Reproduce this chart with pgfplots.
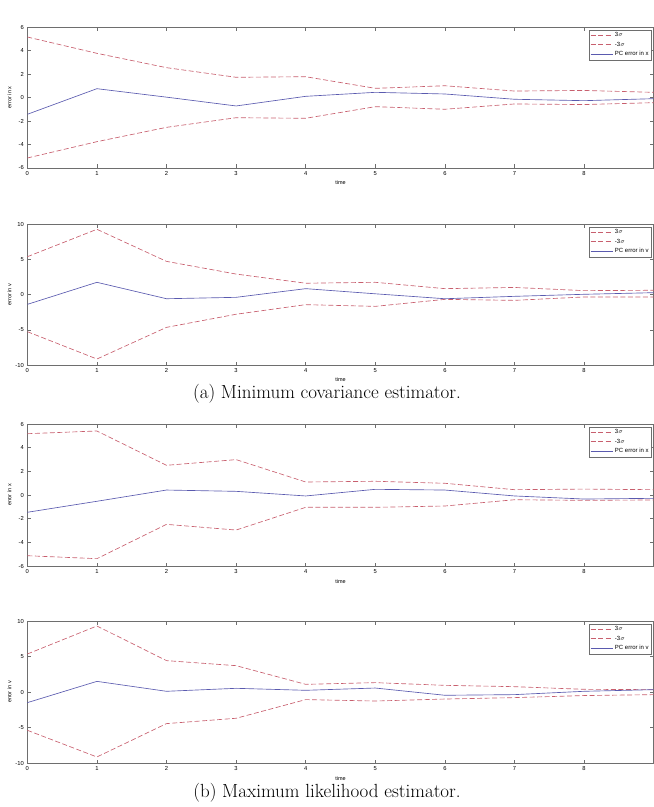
\documentclass[border=0pt]{standalone}
\usepackage{fontspec}
\usepackage{pgfplots}
\pgfplotsset{compat=1.18}
\newfontfamily\hel{Liberation Sans}
\definecolor{sigcol}{RGB}{200,95,110}
\definecolor{errcol}{RGB}{90,90,175}
\definecolor{boxcol}{RGB}{110,110,110}

\pgfplotsset{
  panel/.style={
    scale only axis, width=626.4pt,
    anchor=north west,
    xmin=0, xmax=9, xtick={0,...,8},
    tick align=inside, major tick length=3.5pt,
    axis line style={boxcol, line width=0.5pt},
    every tick/.style={boxcol, line width=0.5pt},
    tick label style={font=\hel\fontsize{5.8}{6.5}\selectfont},
    /pgf/number format/assume math mode=true,
    xlabel={time},
    xlabel style={font=\hel\fontsize{5.5}{6}\selectfont, at={(axis description cs:0.5,-0.106)}, anchor=center},
    ylabel style={font=\hel\fontsize{5.5}{6}\selectfont, at={(axis description cs:-0.0285,0.5)}, anchor=center},
    legend style={font=\hel\fontsize{6}{7}\selectfont, at={(0.997,0.982)}, anchor=north east,
      draw=boxcol, line width=0.4pt, inner sep=1pt, row sep=-0.5pt, cells={anchor=west}},
    legend image code/.code={\draw[#1] (0pt,0pt) -- (22pt,0pt);},
  },
  sig/.style={color=sigcol, line width=0.65pt, dash pattern=on 5pt off 2.5pt},
  err/.style={color=errcol, line width=0.65pt},
}

\begin{document}
\begin{tikzpicture}
\useasboundingbox (0pt,0pt) rectangle (654pt,-807pt);

% (a) minimum covariance estimator, position error
\begin{axis}[panel, at={(27.3pt,-27pt)}, height=141pt,
  ymin=-6, ymax=6, ytick={-6,-4,...,6}, ylabel={error in x}]
\addplot[sig] coordinates {(0,5.15) (1,3.76) (2,2.54) (3,1.72) (4,1.77) (5,0.78) (6,1.0) (7,0.55) (8,0.6) (9,0.44)};
\addplot[sig] coordinates {(0,-5.15) (1,-3.76) (2,-2.54) (3,-1.72) (4,-1.77) (5,-0.78) (6,-1.0) (7,-0.55) (8,-0.6) (9,-0.44)};
\addplot[err] coordinates {(0,-1.43) (1,0.75) (2,0.03) (3,-0.72) (4,0.1) (5,0.44) (6,0.3) (7,-0.15) (8,-0.27) (9,-0.1)};
\legend{3$\sigma$, -3$\sigma$, PC error in x}
\end{axis}

% (a) minimum covariance estimator, velocity error
\begin{axis}[panel, at={(27.3pt,-224pt)}, height=141pt,
  ymin=-10, ymax=10, ytick={-10,-5,0,5,10}, ylabel={error in v}]
\addplot[sig] coordinates {(0,5.36) (1,9.25) (2,4.7) (3,2.9) (4,1.6) (5,1.73) (6,0.83) (7,1.0) (8,0.55) (9,0.6)};
\addplot[sig] coordinates {(0,-5.27) (1,-9.15) (2,-4.66) (3,-2.8) (4,-1.44) (5,-1.68) (6,-0.69) (7,-0.83) (8,-0.35) (9,-0.35)};
\addplot[err] coordinates {(0,-1.4) (1,1.73) (2,-0.6) (3,-0.4) (4,0.83) (5,0.1) (6,-0.6) (7,-0.26) (8,0.03) (9,0.26)};
\legend{3$\sigma$, -3$\sigma$, PC error in v}
\end{axis}

\node at (327pt,-394pt) {\fontsize{19}{22}\selectfont (a) Minimum covariance estimator.};

% (b) maximum likelihood estimator, position error
\begin{axis}[panel, at={(27.3pt,-424pt)}, height=142pt,
  ymin=-6, ymax=6, ytick={-6,-4,...,6}, ylabel={error in x}]
\addplot[sig] coordinates {(0,5.18) (1,5.41) (2,2.51) (3,2.99) (4,1.1) (5,1.16) (6,0.99) (7,0.45) (8,0.5) (9,0.45)};
\addplot[sig] coordinates {(0,-5.13) (1,-5.38) (2,-2.48) (3,-2.96) (4,-1.04) (5,-1.04) (6,-0.93) (7,-0.4) (8,-0.45) (9,-0.42)};
\addplot[err] coordinates {(0,-1.46) (1,-0.53) (2,0.42) (3,0.31) (4,-0.08) (5,0.48) (6,0.42) (7,-0.08) (8,-0.34) (9,-0.28)};
\legend{3$\sigma$, -3$\sigma$, PC error in x}
\end{axis}

% (b) maximum likelihood estimator, velocity error
\begin{axis}[panel, at={(27.3pt,-621pt)}, height=142pt,
  ymin=-10, ymax=10, ytick={-10,-5,0,5,10}, ylabel={error in v}]
\addplot[sig] coordinates {(0,5.35) (1,9.3) (2,4.42) (3,3.71) (4,1.08) (5,1.32) (6,0.94) (7,0.75) (8,0.38) (9,0.33)};
\addplot[sig] coordinates {(0,-5.39) (1,-9.15) (2,-4.45) (3,-3.7) (4,-1.07) (5,-1.27) (6,-0.99) (7,-0.79) (8,-0.5) (9,-0.37)};
\addplot[err] coordinates {(0,-1.5) (1,1.5) (2,0.1) (3,0.52) (4,0.24) (5,0.56) (6,-0.46) (7,-0.37) (8,0.1) (9,0.33)};
\legend{3$\sigma$, -3$\sigma$, PC error in v}
\end{axis}

\node at (327pt,-793pt) {\fontsize{19}{22}\selectfont (b) Maximum likelihood estimator.};
\end{tikzpicture}
\end{document}
